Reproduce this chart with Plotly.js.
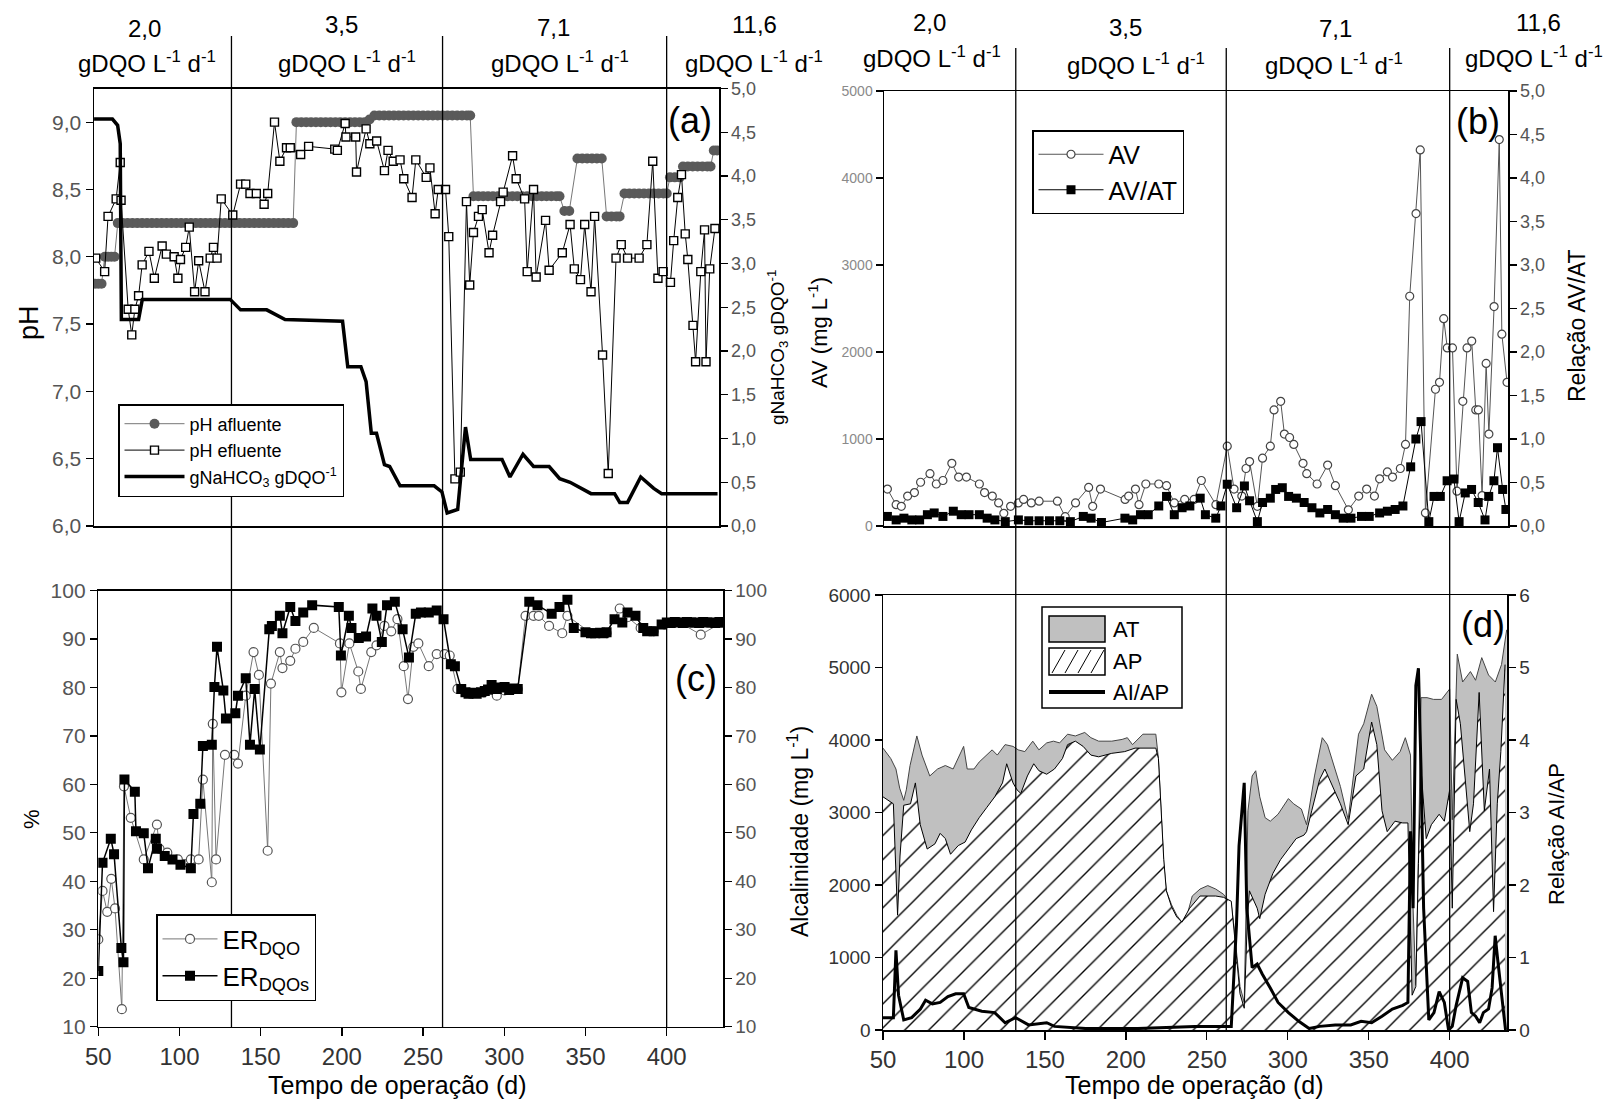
<!DOCTYPE html>
<html><head><meta charset="utf-8">
<script src="https://cdn.plot.ly/plotly-3.0.1.min.js"></script>
<style>html,body{margin:0;padding:0;background:#fff}#chart{width:1615px;height:1106px}</style>
</head><body><div id="chart"></div>
<script>
// ---------------- DATA ----------------
const olrLabels = ['2,0','3,5','7,1','11,6'];
const olrUnit = 'gDQO L<sup>-1</sup> d<sup>-1</sup>';
const phaseBounds = [132, 262, 400];

// (a) pH afluente
const phAflDays = [48,50,52, 54,56,58,60,
  62,65,68,71,74,77,80,83,86,89,92,95,98,101,104,107,110,113,116,119,122,125,128,131,134,137,140,143,146,149,152,155,158,161,164,167,170,
  172,175,178,181,184,187,190,193,196,199,202,205,208,211,214, 217,
  220,223,226,229,232,235,238,241,244,247,250,253,256,259,262,265,268,271,274,277,279,
  281,284,287,290,293,296,299,302,305,308,311,314,317,320,323,326,329,332,334,
  337,340, 345,348,351,354,357,360, 363,366,369,371,
  374,377,380,383,386,389,392,395,398,400, 402,405,408, 410,413,416,419,422,425,427, 429,431];
const phAflVals = [7.8,7.8,7.8, 8.0,8.0,8.0,8.0,
  8.25,8.25,8.25,8.25,8.25,8.25,8.25,8.25,8.25,8.25,8.25,8.25,8.25,8.25,8.25,8.25,8.25,8.25,8.25,8.25,8.25,8.25,8.25,8.25,8.25,8.25,8.25,8.25,8.25,8.25,8.25,8.25,8.25,8.25,8.25,8.25,8.25,
  9.0,9.0,9.0,9.0,9.0,9.0,9.0,9.0,9.0,9.0,9.0,9.0,9.0,9.0,9.0, 9.02,
  9.05,9.05,9.05,9.05,9.05,9.05,9.05,9.05,9.05,9.05,9.05,9.05,9.05,9.05,9.05,9.05,9.05,9.05,9.05,9.05,9.05,
  8.45,8.45,8.45,8.45,8.45,8.45,8.45,8.45,8.45,8.45,8.45,8.45,8.45,8.45,8.45,8.45,8.45,8.45,8.45,
  8.34,8.34, 8.73,8.73,8.73,8.73,8.73,8.73, 8.30,8.30,8.30,8.30,
  8.47,8.47,8.47,8.47,8.47,8.47,8.47,8.47,8.47,8.47, 8.59,8.59,8.59, 8.67,8.67,8.67,8.67,8.67,8.67,8.67, 8.79,8.79];

// (a) pH efluente
const phEflDays = [48.4,53.9,56,61,63.5,64,68.4,70.6,72.5,74.8,
  77,81.2,84.5,89.3,91.9,96.7,99,100.6,103.8,106,
  109.3,111.8,115.7,118.9,120.9,123.1,125.7,132.8,137.6,140.8,
  143.4,147.3,152.1,154.3,158.5,161.8,165.9,168.2,174.6,179.5,
  195.6,197.2,202,202.5,208.5,209,214.9,217.2,221.4,226.2,
  228.4,231.6,235.8,238.1,243.2,245.5,251.9,254.2,257.4,259.3,
  263.8,265.8,269.6,272.9,276.7,278.7,281,284.1,286.4,290.6,
  292.8,297.7,299.3,305.1,307.3,312.5,314.1,318,319.6,325.4,
  327.6,335.7,340.5,343.1,346.9,349.5,353.4,355.6,360.5,364,
  368.8,372,375.9,383,387.8,391.4,394.6,397.8,402.3,404.3,
  406.8,409.1,411.4,413,416.2,417.8,421,423.3,424.2,426.5,429.7];
const phEflVals = [7.99,7.89,8.30,8.43,8.70,8.42,7.61,7.42,7.61,7.71,
  7.94,8.04,7.84,8.08,8.02,8.00,7.84,7.98,8.07,8.22,
  7.74,7.97,7.74,7.99,8.07,7.99,8.43,8.31,8.54,8.54,
  8.47,8.47,8.39,8.47,9.00,8.71,8.81,8.81,8.76,8.82,
  8.80,8.79,8.99,8.89,8.89,8.63,8.95,8.84,8.86,8.64,
  8.79,8.71,8.72,8.58,8.44,8.72,8.59,8.66,8.32,8.50,
  8.50,8.15,6.35,6.40,8.41,7.79,8.18,8.30,8.35,8.03,
  8.16,8.41,8.48,8.75,8.58,8.43,7.89,8.50,7.85,8.27,
  7.90,8.03,8.24,7.91,7.83,8.24,7.74,8.30,7.27,6.39,
  7.99,8.09,7.99,7.99,8.09,8.71,7.84,7.89,7.81,8.12,
  8.44,8.61,8.17,7.98,7.49,7.22,7.89,8.20,7.22,7.91,8.21];

// (a) gNaHCO3 gDQO-1
const naDays = [47.4,58.7,61.9,63.5,64.2,74.8,77.1,131.2,137.6,153.7,
  165,200.4,203.6,211.7,214.9,218.1,221.3,226.2,229.4,235.8,
  256.8,261.6,264.8,271.3,276.1,279.3,298.6,303.5,311.5,318,
  327.6,334.1,340.5,346.9,353.4,367.9,371.1,375.9,384,392,396.9,431.3];
const naVals = [4.65,4.65,4.58,4.37,2.36,2.36,2.59,2.59,2.47,2.47,
  2.36,2.34,1.82,1.82,1.65,1.06,1.06,0.70,0.68,0.46,
  0.46,0.39,0.15,0.19,1.13,0.76,0.76,0.56,0.82,0.68,
  0.68,0.54,0.50,0.43,0.37,0.37,0.27,0.27,0.56,0.43,0.37,0.37];

// (b) AV (mg/L)
const avDays = [52.7,58.1,61.3,65.2,69.4,73.2,79,82.9,87,92.5,
  96.7,101.5,109.5,112.7,117.5,121.4,124.6,128.8,133.6,136.8,
  141.6,146.4,157.7,162.5,168.9,177,179.5,184.3,199.5,201.7,
  205.9,208.1,212.3,220.3,225.1,229.9,236.3,242.1,246.6,255.6,
  262.6,266.8,271.6,274.2,276.4,281.2,284.4,289.2,291.5,295.6,
  297.9,301.1,303.7,309.4,311.7,318.1,324.6,329.4,337.4,343.8,
  348.7,353.5,356.7,361.5,364.7,369.5,372.7,375.3,379.2,381.8,
  385,391.2,393.7,396.3,398.5,401.7,404.5,408.1,410.7,413.6,
  416.1,417.7,420,422.5,424.2,427.4,430.6,432.2,435.4];
const avVals = [424,245,226,344,384,503,602,483,523,720,
  562,562,483,384,344,265,146,226,265,305,
  265,285,285,107,265,443,226,424,305,344,
  424,245,483,483,463,265,305,305,523,245,
  918,424,344,661,740,226,780,918,1334,1433,
  1057,1017,938,720,602,483,700,463,186,344,
  424,344,542,622,562,661,938,2641,3591,4323,
  150,1572,1651,2383,2047,2047,400,1433,2047,2126,
  1334,1334,350,1869,1057,2522,4442,2205,1651];

// (b) AV/AT
const avatDays = [52.7,58.1,62.9,67.8,72.6,77.4,81.6,87,93.4,98.3,
  103.1,109.5,114.3,119.1,125.5,133.6,140,146.4,152.8,159.2,
  165.7,173.7,178.5,184.9,199.4,204.2,209,213.8,220.3,225.1,
  229.9,234.7,239.5,245.9,249.1,255.5,258.7,262.6,268.4,273.2,
  276.4,281.2,284.4,289.2,292.5,296.6,300.5,305.3,310.1,314.9,
  319.8,324.6,329.4,334.2,339,345.5,350.3,356.7,361.5,366.3,
  371.1,375.9,379.1,382.3,387.1,390.3,394.2,398.4,402.6,405.8,
  409.6,413.5,417.6,421.8,424.1,427.3,429.5,432.7,434.7];
const avatVals = [0.11,0.07,0.09,0.07,0.07,0.13,0.15,0.11,0.17,0.13,
  0.13,0.13,0.09,0.07,0.05,0.07,0.06,0.06,0.06,0.06,
  0.05,0.11,0.09,0.04,0.09,0.07,0.13,0.13,0.23,0.34,
  0.13,0.21,0.23,0.32,0.13,0.09,0.23,0.48,0.21,0.46,
  0.29,0.05,0.27,0.32,0.42,0.44,0.34,0.32,0.27,0.21,
  0.15,0.19,0.13,0.09,0.09,0.11,0.11,0.15,0.17,0.19,
  0.23,0.68,1.0,1.2,0.05,0.34,0.34,0.52,0.54,0.05,
  0.38,0.42,0.27,0.07,0.34,0.52,0.9,0.42,0.19];

// (c) ER DQO (%)
const erDays = [50,52.6,55.5,58,60.3,64.5,65.8,70,78,86.1,
  87.7,92.5,99,107,111.8,114.4,119.9,120.5,122.5,128,
  133.7,136,140.8,145.6,148.9,154.3,156.3,161.8,163.4,168.2,
  171.4,176.2,182.7,198.8,199.7,204.6,210.1,211.7,218.1,221.3,
  226.2,230.4,234.2,238.1,240.7,244,247.1,253.5,258.4,263.2,
  266.4,271.2,279.3,287.4,295.4,300.2,308.3,313.1,318,321.2,
  327.6,335.7,338.9,353.4,363,371.1,375.9,384,392,398.5,
  408.1,421,433.9];
const erVals = [28,38,33.7,40.5,34.4,13.6,59.6,53.1,44.5,51.7,
  46.7,45.9,44.5,44.5,44.5,61,39.8,72.5,44.5,66.1,
  66.1,64.3,78.3,87.3,82.6,46.3,80.8,87.3,84,85.5,
  88,89.4,92.3,89.1,79,89.1,83.3,79.7,87.3,88.7,
  92.7,91.6,94.1,84.4,77.6,88.4,89.1,84.4,86.9,86.9,
  86.6,79.7,78.7,79,78.3,79.4,79.7,94.8,94.8,94.8,
  92.7,91.2,94.8,91.2,91.2,96.3,94.5,92.3,91.6,93,
  93.4,90.9,93.4];

// (c) ER DQOs (%)
const ersDays = [50,52.6,57.7,59.7,64.2,65.5,66.1,72.5,73.2,78,
  80.6,85.4,86.1,90.9,95.7,100.6,107,108.6,112.8,114.4,
  119.9,121.5,123.1,127,128.6,134.4,136,140.8,143.4,146.3,
  149.5,155.3,156.9,161.8,163.4,168.2,171.4,176.2,181.7,198.1,
  199.4,204.3,205.9,210.4,214.9,218.8,221.3,224.6,227.8,232.6,
  237.4,241.3,245.5,248.7,253.5,258.4,262.6,267.1,269.6,
  273.5,276.1,278,280.9,283,285.7,288,290,292.2,295.4,297,300.2,303,306,308.3,
  315.4,320.5,329.2,334,338.9,342.8,
  350,353.4,356,359,361,363,
  367.9,372.7,375.9,380.8,385.6,388,392,396.9,
  400.1,402.5,405,407.5,410,412.5,415,417.5,420,422.5,425,427.5,430,432.5,434.5];
const ersVals = [21.5,43.8,48.8,45.6,26.2,23.3,61.0,58.5,50.3,49.9,
  42.7,48.8,46.7,45.2,44.5,43.4,42.7,53.9,56,67.9,
  68.2,80.1,88.4,79.4,73.6,74.7,78.3,81.9,68.2,79.7,
  67.2,92,92.7,94.8,91.2,96.6,93.7,95.5,97,96.6,
  86.6,94.8,92.3,90.2,90.5,96.3,94.8,89.4,97,97.7,
  92,86.2,95.2,95.5,95.5,95.9,94.1,84.8,84.4,
  79.7,79,78.7,78.9,78.7,79,79.3,79.6,80.5,79.7,80,80.1,79.5,79.8,79.7,
  97.7,97,95.2,96.6,98.1,92.3,
  91.4,91.2,91.2,91.3,91.2,91.4,
  94.1,93.4,95.5,94.8,92.3,91.6,91.6,93,
  93.4,93.3,93.5,93.4,93.3,93.5,93.4,93.4,93.3,93.5,93.4,93.4,93.3,93.5,93.4];

// (d) AT (mg/L)
const atDays = [50,54.8,58,60.3,62.8,64.4,66.7,70.9,74.1,78.9,
  83.7,88.5,93.3,95.9,99.8,102,106.2,109.4,114.2,117.4,
  120.6,125.4,130.3,133.5,137.6,142.5,146.3,151.1,155.3,159.1,
  164,168.8,174.6,178.4,183.2,191.3,197.7,200.9,204.1,210.5,
  218.5,220.1,223.4,225,228.2,231.4,234.6,237.8,241,245.8,
  250.6,255.5,260.3,265.1,266.7,268.3,270.5,273.1,275.4,278,
  280.2,282.7,286,289.2,294,300.4,303.6,308.4,311.6,316.5,
  321.3,324.5,329.3,332.5,337.3,343.7,346.9,351.8,355,359.8,
  364.6,369.4,372.6,375.8,377.4,379.1,380.7,382.3,386,390,
  395,400,401.6,404.7,408,412.8,416,419.8,424,428.2,
  432,435.2];
const atVals = [3888,3744,3600,3336,3168,3312,3648,4056,3792,3504,
  3600,3648,3600,3720,3912,3600,3600,3696,3792,3864,
  3792,3936,3912,3864,3840,3984,3864,3960,3984,3960,
  4080,4056,4104,4032,3984,3984,4008,4032,3936,4080,
  4080,3744,2304,1920,1728,1584,1488,1584,1848,1944,
  1992,1944,1872,1728,1440,1056,600,384,3024,3504,
  3576,3216,2928,2880,2976,3192,3120,3048,2832,3504,
  4032,3936,3600,3360,2904,4080,4224,4632,4464,3864,
  3720,3840,4032,3792,1680,624,2400,4584,4584,4560,
  4560,4704,2900,5184,4800,4944,4824,5136,4896,4800,
  5040,5520];

// (d) AP (mg/L)
const apDays = [50,56.4,57.6,59,60.5,62.8,67,70,73,77.3,
  82.1,85.3,88.5,91.7,96.5,100.7,104.6,109.4,114.2,119,
  123.8,126.4,130.3,132.8,135.1,139.2,143.1,146.3,151.1,155.9,
  160.8,164,168.8,173.6,178.4,183.2,191.3,199.3,205.7,210.5,
  218.5,220.1,223.4,225,228.2,231.4,234.6,239.4,245.8,255.5,
  260.3,265.1,266.7,268.3,270.5,273.1,275,276.3,281.1,282.7,
  286,290.8,295.6,300.4,305.2,310,311.6,314.8,319.7,322.9,
  327.7,332.5,337.3,342.1,346.9,351.8,355,358.2,361.4,366.2,
  371,374.2,376.8,379.1,380.7,382.3,385.5,388.7,393.5,396.7,
  400,401.6,404,406.6,409.8,412.4,414.7,418.2,421.4,424.6,
  427.1,429.4,431.6,434.2];
const apVals = [3216,3120,2400,1584,2400,3100,3120,3408,2832,2496,
  2568,2712,2640,2424,2544,2592,2760,2928,3072,3216,
  3408,3672,3408,3312,3264,3504,3672,3576,3528,3600,
  3744,3936,3984,3912,3792,3768,3816,3840,3888,3888,
  3888,3744,2352,1920,1700,1560,1488,1680,1848,1848,
  1830,1776,1400,1000,500,300,1500,1920,1680,1536,
  1872,2160,2352,2496,2640,2688,2736,3024,3456,3600,
  3360,3120,2832,3504,3600,4248,3936,3024,2736,2880,
  2856,2856,480,600,2300,3600,2640,2832,2976,2880,
  3312,1680,4560,4224,3408,2736,3120,4656,3024,3600,
  1632,3120,3840,5040];

// (d) AI/AP
const aiapDays = [50,56.4,58,59.6,62.8,67.7,73.1,76.3,80.5,85.3,
  90.1,94.9,99.8,103,111,119,125.4,131.9,139.9,151.1,
  155.9,175.2,207.3,242.6,265.1,268.3,269.9,273.1,274.7,278,
  281.1,284.3,289.2,294,300.4,306.8,313.2,319.7,329.3,338.9,
  345.3,351.8,358.2,364.6,371,374.2,375.8,377.4,379.1,380.7,
  382.3,383.9,387.1,390.3,393.5,396.7,399.3,401.6,404,408,
  411.1,413.4,416,418.5,420.8,424,426.2,428.1,429.7,432,434.5];
const aiapVals = [0.17,0.17,1.10,0.48,0.14,0.17,0.29,0.41,0.36,0.38,
  0.46,0.50,0.50,0.31,0.26,0.24,0.10,0.17,0.07,0.10,
  0.05,0.02,0.02,0.05,0.05,1.44,2.54,3.41,1.68,0.86,
  0.91,0.77,0.58,0.38,0.24,0.12,0.02,0.05,0.07,0.07,
  0.12,0.10,0.19,0.29,0.34,0.38,2.74,1.68,4.75,4.99,
  3.60,1.68,0.14,0.24,0.53,0.38,0.0,0.05,0.34,0.72,
  0.67,0.24,0.19,0.10,0.24,0.29,0.58,1.30,0.96,0.48,0.0];

const legendDNames = ['AT', 'AP', 'AI/AP'];

// ---------------- LAYOUT HELPERS ----------------
const W = 1615, H = 1106;
const px = x => x / W;
const py = y => 1 - y / H;
const FONT = 'Liberation Sans, Arial, Helvetica, sans-serif';
const TICKC = '#555';

function axBase(extra) {
  return Object.assign({
    showline: true, linecolor: '#000', linewidth: 1.5,
    showgrid: false, zeroline: false, fixedrange: true,
    ticks: 'outside', ticklen: 7, tickwidth: 1.3, tickcolor: '#000',
    tickfont: {family: FONT, size: 19, color: TICKC}
  }, extra);
}

const traces = [
  // (a)
  {x: phAflDays, y: phAflVals, xaxis: 'x', yaxis: 'y', mode: 'lines+markers', name: 'pH afluente',
   line: {color: '#777', width: 1}, marker: {symbol: 'circle', size: 10, color: '#5a5a5a'}, legend: 'legend'},
  {x: phEflDays, y: phEflVals, xaxis: 'x', yaxis: 'y', mode: 'lines+markers', name: 'pH efluente',
   line: {color: '#000', width: 1}, marker: {symbol: 'square', size: 8, color: '#fff', line: {color: '#000', width: 1.4}}, legend: 'legend'},
  {x: naDays, y: naVals, xaxis: 'x', yaxis: 'y2', mode: 'lines', name: 'gNaHCO<sub>3</sub> gDQO<sup>-1</sup>',
   line: {color: '#000', width: 3.5}, legend: 'legend'},
  // (b)
  {x: avDays, y: avVals, xaxis: 'x2', yaxis: 'y3', mode: 'lines+markers', name: 'AV',
   line: {color: '#555', width: 1}, marker: {symbol: 'circle', size: 8, color: '#fff', line: {color: '#444', width: 1.2}}, legend: 'legend2'},
  {x: avatDays, y: avatVals, xaxis: 'x2', yaxis: 'y4', mode: 'lines+markers', name: 'AV/AT',
   line: {color: '#000', width: 1}, marker: {symbol: 'square', size: 9, color: '#000'}, legend: 'legend2'},
  // (c)
  {x: erDays, y: erVals, xaxis: 'x3', yaxis: 'y5', mode: 'lines+markers', name: 'ER<sub>DQO</sub>',
   line: {color: '#777', width: 1}, marker: {symbol: 'circle', size: 9, color: '#fff', line: {color: '#555', width: 1.2}}, legend: 'legend3'},
  {x: ersDays, y: ersVals, xaxis: 'x3', yaxis: 'y5', mode: 'lines+markers', name: 'ER<sub>DQOs</sub>',
   line: {color: '#000', width: 1.5}, marker: {symbol: 'square', size: 10, color: '#000'}, legend: 'legend3'},
  {x: [ersDays[0]], y: [ersVals[0]], xaxis: 'x3', yaxis: 'y6', mode: 'markers', marker: {opacity: 0}, showlegend: false, hoverinfo: 'skip'},
  // (d)
  {x: atDays, y: atVals, xaxis: 'x4', yaxis: 'y7', mode: 'lines', name: legendDNames[0], fill: 'tozeroy',
   fillcolor: '#c0c0c0', line: {color: '#444', width: 1}, showlegend: false},
  {x: apDays, y: apVals, xaxis: 'x4', yaxis: 'y7', mode: 'lines', name: legendDNames[1], fill: 'tozeroy',
   fillcolor: '#fff', fillpattern: {shape: '/', fgcolor: '#000', bgcolor: '#fff', size: 17, solidity: 0.08},
   line: {color: '#000', width: 1}, showlegend: false},
  {x: aiapDays, y: aiapVals, xaxis: 'x4', yaxis: 'y8', mode: 'lines', name: legendDNames[2],
   line: {color: '#000', width: 3}, showlegend: false}
];

function legendBox(x, y, size, itemwidth) {
  return {x: px(x), y: py(y), xanchor: 'left', yanchor: 'top', xref: 'paper', yref: 'paper',
    bgcolor: '#fff', bordercolor: '#000', borderwidth: 1.5, itemwidth: itemwidth || 40,
    font: {family: FONT, size: size, color: '#000'}, traceorder: 'normal'};
}

const annotations = [];
function ann(text, x, y, size, opts) {
  annotations.push(Object.assign({text: text, x: px(x), y: py(y), xref: 'paper', yref: 'paper',
    showarrow: false, xanchor: 'center', yanchor: 'middle',
    font: {family: FONT, size: size, color: '#000'}}, opts || {}));
}
// loading-rate headers
const hdrLeftX = [144, 341, 553, 754], hdrLeftY = [28, 25, 27, 25];
const unitLeftX = [147, 347, 560, 754];
const hdrRightX = [929, 1125, 1335, 1538], hdrRightY = [22, 27, 28, 22];
const unitRightX = [932, 1136, 1334, 1534], unitRightY = [57, 64, 64, 57];
olrLabels.forEach((t, i) => {
  ann(t, hdrLeftX[i], hdrLeftY[i], 24);
  ann(olrUnit, unitLeftX[i], 62, 24);
  ann(t, hdrRightX[i], hdrRightY[i], 24);
  ann(olrUnit, unitRightX[i], unitRightY[i], 24);
});
// panel tags
ann('(a)', 690, 120, 36);
ann('(b)', 1478, 122, 36);
ann('(c)', 696, 678, 36);
ann('(d)', 1483, 624, 36);
// axis titles
ann('pH', 29, 322, 27, {textangle: -90});
ann('gNaHCO<sub>3</sub> gDQO<sup>-1</sup>', 777, 348, 19, {textangle: -90});
ann('AV (mg L<sup>-1</sup>)', 818, 333, 22, {textangle: -90});
ann('Relação AV/AT', 1577, 326, 23, {textangle: -90});
ann('%', 31, 819, 22, {textangle: -90});
ann('Alcalinidade (mg L<sup>-1</sup>)', 798, 832, 23, {textangle: -90});
ann('Relação AI/AP', 1556, 834, 22, {textangle: -90});
ann('Tempo de operação (d)', 397, 1085, 25);
ann('Tempo de operação (d)', 1194, 1085, 25);

const shapes = [];
phaseBounds.forEach(d => {
  shapes.push({type: 'line', xref: 'x3', yref: 'paper', x0: d, x1: d, y0: py(1027), y1: py(36),
    line: {color: '#000', width: 1.3}, layer: 'above'});
  shapes.push({type: 'line', xref: 'x4', yref: 'paper', x0: d, x1: d, y0: py(1030), y1: py(48),
    line: {color: '#000', width: 1.3}, layer: 'above'});
});

// (d) legend drawn by hand (large swatches as in the reference)
function prect(x0, y0, x1, y1, fill, lw) {
  shapes.push({type: 'rect', xref: 'paper', yref: 'paper', x0: px(x0), x1: px(x1), y0: py(y1), y1: py(y0),
    fillcolor: fill, line: {color: '#000', width: lw}, layer: 'above'});
}
function pline(x0, y0, x1, y1, lw) {
  shapes.push({type: 'line', xref: 'paper', yref: 'paper', x0: px(x0), x1: px(x1), y0: py(y0), y1: py(y1),
    line: {color: '#000', width: lw}, layer: 'above'});
}
prect(1042, 607, 1182, 708, '#fff', 1.5);
prect(1049, 616, 1105, 642, '#c0c0c0', 1.5);
prect(1049, 648, 1105, 675, '#fff', 1.5);
[1052, 1065, 1078, 1091].forEach(x => pline(x, 673, x + 13, 650, 1));
pline(1049, 692, 1105, 692, 4);
ann(legendDNames[0], 1111, 629, 22, {xanchor: 'left'});
ann(legendDNames[1], 1111, 661, 22, {xanchor: 'left'});
ann(legendDNames[2], 1111, 692, 22, {xanchor: 'left'});

const layout = {
  width: W, height: H, autosize: false,
  margin: {l: 0, r: 0, t: 0, b: 0, pad: 0},
  paper_bgcolor: '#fff', plot_bgcolor: 'rgba(0,0,0,0)',
  separators: ', ',
  font: {family: FONT, color: '#000'},
  hovermode: false,
  // (a)
  xaxis: axBase({domain: [px(94), px(719)], range: [47.35, 432.2], anchor: 'y', mirror: true, ticks: '', showticklabels: false}),
  yaxis: axBase({domain: [py(526), py(88.5)], range: [6, 9.25], anchor: 'x', tick0: 6, dtick: 0.5, tickformat: '.1f',
    tickfont: {family: FONT, size: 21, color: TICKC}}),
  yaxis2: axBase({overlaying: 'y', side: 'right', anchor: 'x', range: [0, 5], tick0: 0, dtick: 0.5, tickformat: '.1f',
    tickfont: {family: FONT, size: 18, color: TICKC}}),
  // (b)
  xaxis2: axBase({domain: [px(884), px(1508)], range: [50.6, 436], anchor: 'y3', mirror: true, ticks: '', showticklabels: false}),
  yaxis3: axBase({domain: [py(526), py(91)], range: [0, 5000], anchor: 'x2', tick0: 0, dtick: 1000,
    tickfont: {family: FONT, size: 14, color: '#8a8a8a'}}),
  yaxis4: axBase({overlaying: 'y3', side: 'right', anchor: 'x2', range: [0, 5], tick0: 0, dtick: 0.5, tickformat: '.1f',
    tickfont: {family: FONT, size: 18, color: TICKC}}),
  // (c)
  xaxis3: axBase({domain: [px(98.3), px(723)], range: [50, 434.7], anchor: 'y5', mirror: true,
    tickvals: [50,100,150,200,250,300,350,400], ticklen: 8, tickfont: {family: FONT, size: 24, color: '#333'}}),
  yaxis5: axBase({domain: [py(1026.6), py(590.6)], range: [10, 100], anchor: 'x3', tick0: 10, dtick: 10,
    tickfont: {family: FONT, size: 21, color: TICKC}}),
  yaxis6: axBase({overlaying: 'y5', side: 'right', anchor: 'x3', range: [10, 100], tick0: 10, dtick: 10,
    tickfont: {family: FONT, size: 19, color: TICKC}}),
  // (d)
  xaxis4: axBase({domain: [px(883), px(1507)], range: [50, 435.4], anchor: 'y7', mirror: true,
    tickvals: [50,100,150,200,250,300,350,400], ticklen: 8, tickfont: {family: FONT, size: 24, color: '#333'}}),
  yaxis7: axBase({domain: [py(1030), py(595)], range: [0, 6000], anchor: 'x4', tick0: 0, dtick: 1000,
    tickfont: {family: FONT, size: 19, color: '#333'}}),
  yaxis8: axBase({overlaying: 'y7', side: 'right', anchor: 'x4', range: [0, 6], tick0: 0, dtick: 1,
    tickfont: {family: FONT, size: 19, color: '#333'}}),
  legend: legendBox(118, 404, 18, 60),
  legend2: legendBox(1032, 130, 25, 65),
  legend3: legendBox(156, 914, 26, 55),
  annotations: annotations,
  shapes: shapes
};

Plotly.newPlot('chart', traces, layout, {staticPlot: true, displayModeBar: false});
</script></body></html>
